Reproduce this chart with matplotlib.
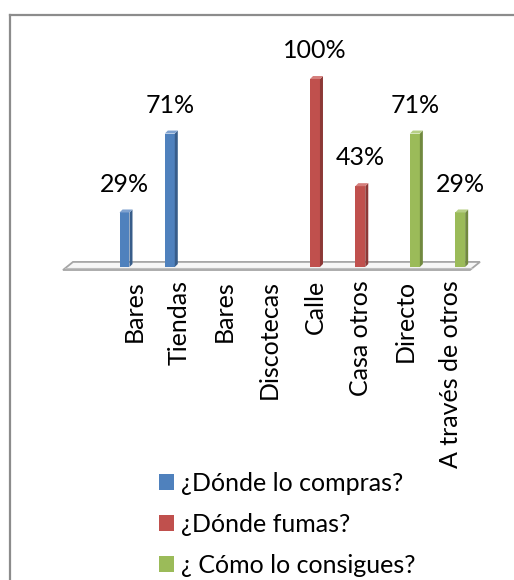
import matplotlib
matplotlib.use("Agg")
import matplotlib.pyplot as plt
from matplotlib.patches import Polygon, Patch
from matplotlib.lines import Line2D
import numpy as np

plt.rcParams['font.family'] = ['Lato', 'DejaVu Sans']

# datos de la encuesta
categorias = ['Bares', 'Tiendas', 'Bares', 'Discotecas', 'Calle',
              'Casa otros', 'Directo', 'A través de otros']
compras = [0.29, 0.71, 0, 0, 0, 0, 0, 0]
fumas = [0, 0, 0, 0, 1.00, 0.43, 0, 0]
consigues = [0, 0, 0, 0, 0, 0, 0.71, 0.29]
series = ['¿Dónde lo compras?', '¿Dónde fumas?', '¿ Cómo lo consigues?']

colores = ['#4F81BD', '#C0504D', '#9BBB59']
lados = ['#385D8A', '#8C3836', '#71893F']
techos = ['#7FA2D0', '#D57F7C', '#B6CF85']

fig = plt.figure(figsize=(5.14, 5.80), dpi=100)
W, H = 514, 580
# ejes colocados en pixeles
ax = fig.add_axes([20 / W, 1 - 275 / H, 480 / W, 255 / H])
ax.set_xlim(-2.512, 8.084)
ax.set_ylim(-0.0426, 1.314)

x = np.arange(len(categorias))
ancho = 0.22
desp = 0.205
dx, dy = 3 / 45.3, 3 / 188

# suelo del grafico 3D
suelo = Polygon([(-1.563, -0.016), (-1.342, 0.027), (7.642, 0.027), (7.421, -0.016)],
                closed=True, facecolor='#F7F7F7', edgecolor='#A6A6A6', lw=1.3, zorder=1)
ax.add_patch(suelo)
ax.plot([-1.52, 7.46], [-0.006, -0.006], color='#BFBFBF', lw=0.8, zorder=1)

for k, vals in enumerate([compras, fumas, consigues]):
    pos = x + (k - 1) * desp
    barras = ax.bar(pos, vals, width=ancho, color=colores[k], zorder=3)
    for xi, h in zip(pos, vals):
        if h <= 0:
            continue
        l, r = xi - ancho / 2, xi + ancho / 2
        ax.add_patch(Polygon([(r, 0), (r + dx, dy), (r + dx, h + dy), (r, h)],
                             closed=True, facecolor=lados[k], lw=0, zorder=3))
        ax.add_patch(Polygon([(l, h), (l + dx, h + dy), (r + dx, h + dy), (r, h)],
                             closed=True, facecolor=techos[k], lw=0, zorder=3))
    etiquetas = ['%d%%' % round(h * 100) if h > 0 else '' for h in vals]
    ax.bar_label(barras, labels=etiquetas, padding=12, fontsize=18, color='black')

ax.set_xticks(x)
ax.set_xticklabels(categorias, rotation=90, fontsize=18, va='top', ha='center')
ax.tick_params(axis='x', length=0, pad=3.5)
ax.set_yticks([])
for s in ax.spines.values():
    s.set_visible(False)
ax.patch.set_visible(False)

handles = [Patch(facecolor=c, edgecolor='none') for c in colores]
fig.legend(handles, series, loc='upper left', bbox_to_anchor=(159 / W, 1 - 472 / H),
           frameon=False, fontsize=18, handlelength=0.58, handleheight=0.58,
           handletextpad=0.3, labelspacing=0.72, borderpad=0, borderaxespad=0)

# marco exterior
fig.add_artist(Line2D([10 / W, 10 / W], [0, 1 - 15 / H], transform=fig.transFigure,
                      color='#8C8C8C', lw=1.6))
fig.add_artist(Line2D([10 / W, 1], [1 - 15 / H, 1 - 15 / H], transform=fig.transFigure,
                      color='#8C8C8C', lw=1.6))

fig.savefig('out.png', dpi=100)
